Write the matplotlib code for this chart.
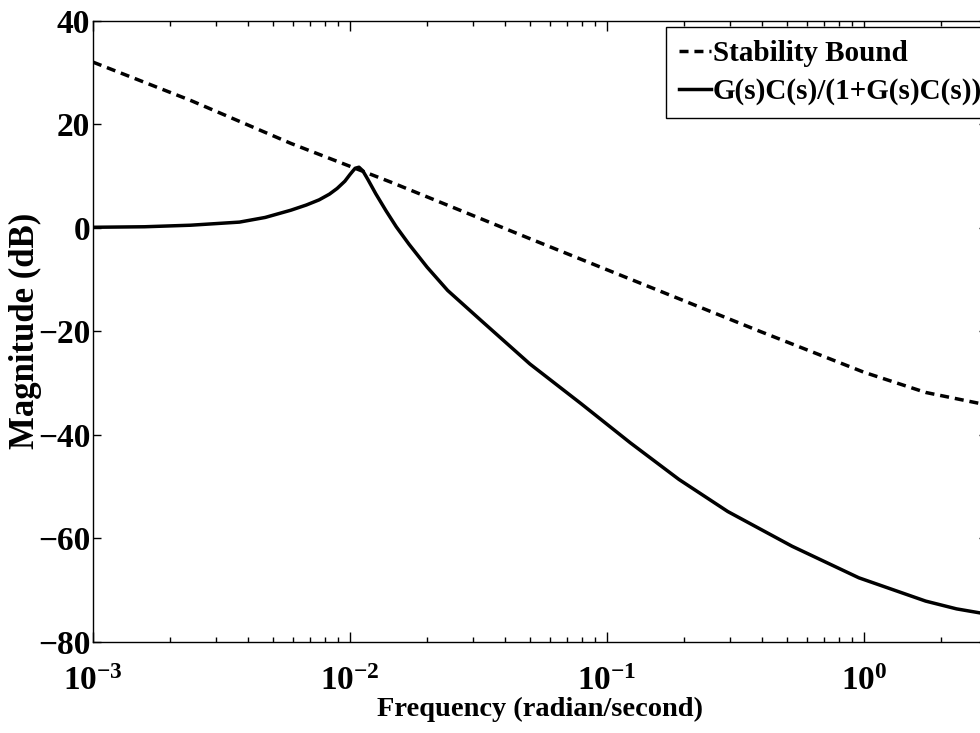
import numpy as np
import matplotlib
matplotlib.use('Agg')
import matplotlib.pyplot as plt
from matplotlib.ticker import FixedLocator, FuncFormatter, LogLocator, NullFormatter

# ---- data (log10 of frequency, dB) ----
bound_logw = [-3.0, -2.62, -2.23, -1.84, -1.30, -0.72, -0.41, 0.0, 0.24, 0.477]
bound_db = [32.0, 24.6, 16.3, 8.8, -2.1, -13.7, -19.9, -27.9, -31.8, -34.2]

loop_logw = [-3.0, -2.80, -2.62, -2.43, -2.33, -2.23, -2.17, -2.12, -2.08,
             -2.05, -2.02, -2.00, -1.98, -1.965, -1.95, -1.93, -1.90, -1.86,
             -1.82, -1.77, -1.70, -1.62, -1.49, -1.30, -1.10, -0.91, -0.72,
             -0.53, -0.28, -0.02, 0.24, 0.36, 0.477]
loop_db = [0.1, 0.2, 0.5, 1.1, 2.0, 3.4, 4.4, 5.4, 6.5,
           7.6, 9.0, 10.3, 11.5, 11.7, 11.0, 9.3, 6.6, 3.3,
           0.2, -3.2, -7.6, -12.1, -17.9, -26.3, -34.0, -41.5, -48.6,
           -54.8, -61.5, -67.6, -72.1, -73.6, -74.6]

y_ticks = [-80, -60, -40, -20, 0, 20, 40]
x_ticks = [1e-3, 1e-2, 1e-1, 1e0]

plt.rcParams['font.family'] = 'Liberation Serif'
plt.rcParams['font.weight'] = 'bold'
plt.rcParams['mathtext.fontset'] = 'custom'
plt.rcParams['mathtext.rm'] = 'Liberation Serif:bold'
plt.rcParams['mathtext.bf'] = 'Liberation Serif:bold'
plt.rcParams['mathtext.it'] = 'Liberation Serif:bold'

W, H = 980, 733
fig = plt.figure(figsize=(W / 100, H / 100), dpi=100)
ax_l, ax_r, ax_t, ax_b = 93, 986.6, 20.7, 642
ax = fig.add_axes([ax_l / W, (H - ax_b) / H, (ax_r - ax_l) / W, (ax_b - ax_t) / H])

ax.plot(10 ** np.array(bound_logw), bound_db, color='black', lw=2.5,
        dashes=(2.6, 1.7), label='Stability Bound')
ax.plot(10 ** np.array(loop_logw), loop_db, color='black', lw=2.5,
        label='G(s)C(s)/(1+G(s)C(s))')

ax.set_xscale('log')
ax.set_xlim(1e-3, 3)
ax.set_ylim(-80, 40)
ax.xaxis.set_major_locator(FixedLocator(x_ticks))
ax.xaxis.set_major_formatter(FuncFormatter(
    lambda v, p: r'$\mathbf{10^{%d}}$' % int(round(np.log10(v)))))
ax.xaxis.set_minor_locator(LogLocator(base=10, subs=np.arange(2, 10)))
ax.xaxis.set_minor_formatter(NullFormatter())
ax.yaxis.set_major_locator(FixedLocator(y_ticks))

ax.tick_params(which='both', direction='in', top=True, right=True, width=1.0)
ax.tick_params(axis='x', which='major', length=7.5, pad=17, labelsize=24)
ax.tick_params(axis='x', which='minor', length=3.6)
ax.tick_params(axis='y', which='major', length=5.8, pad=2, labelsize=24)
for s in ax.spines.values():
    s.set_linewidth(1.0)

ax.set_xlabel('Frequency (radian/second)', fontsize=20.5, fontweight='bold')
ax.xaxis.set_label_coords(0.5, (ax_b - 697) / (ax_b - ax_t))
ax.set_ylabel('Magnitude (dB)', fontsize=25, fontweight='bold')
ax.yaxis.set_label_coords((42 - ax_l) / (ax_r - ax_l), 0.5)

leg = ax.legend(loc='upper left', bbox_to_anchor=(666 / W, 1 - 27 / H),
                bbox_transform=fig.transFigure, fontsize=21,
                handlelength=1.1, handletextpad=0.05, borderpad=0.45,
                labelspacing=0.37, borderaxespad=0, fancybox=False,
                framealpha=1)
leg.get_frame().set_edgecolor('black')
leg.get_frame().set_linewidth(1.0)

fig.savefig('out.png', dpi=100)
